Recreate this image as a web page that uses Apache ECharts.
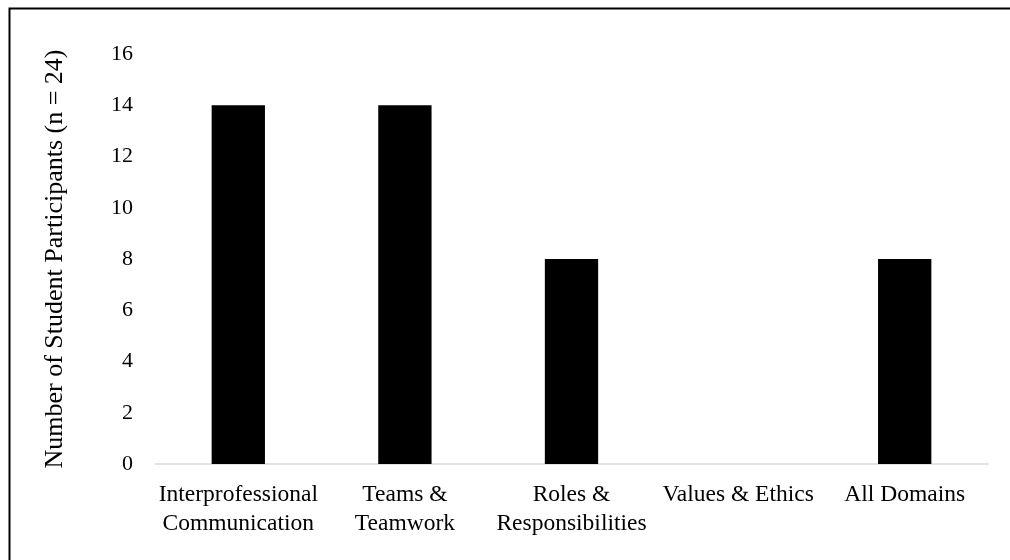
<!DOCTYPE html>
<html><head><meta charset="utf-8">
<script src="https://cdn.jsdelivr.net/npm/echarts@6/dist/echarts.min.js"></script>
<style>html,body{margin:0;padding:0;background:#fff}#c{width:1010px;height:560px}</style>
</head><body><div id="c"></div>
<script>
const categories = ['Interprofessional\nCommunication', 'Teams &\nTeamwork', 'Roles &\nResponsibilities', 'Values & Ethics', 'All Domains'];
const values = [14, 14, 8, 0, 8];
const yTicks = [0, 2, 4, 6, 8, 10, 12, 14, 16];
const yAxisTitle = 'Number of Student Participants (n = 24)';

const font = '"Liberation Serif", "Times New Roman", serif';
const chart = echarts.init(document.getElementById('c'));
chart.setOption({
  animation: false,
  backgroundColor: '#fff',
  graphic: [{
    type: 'rect', shape: { x: 9.5, y: 8.5, width: 1100, height: 700 },
    style: { fill: 'none', stroke: '#000', lineWidth: 2 }
  }],
  grid: { left: 155, right: 22, top: 54, bottom: 96, containLabel: false },
  xAxis: {
    type: 'category', data: categories,
    axisLine: { lineStyle: { color: '#d9d9d9', width: 1.5 } },
    axisTick: { show: false },
    axisLabel: { color: '#000', fontFamily: font, fontSize: 23.5, lineHeight: 28.5, margin: 17, interval: 0 }
  },
  yAxis: {
    type: 'value', min: yTicks[0], max: yTicks[yTicks.length - 1], interval: 2,
    name: yAxisTitle, nameLocation: 'middle', nameGap: 87,
    nameTextStyle: { color: '#000', fontFamily: font, fontSize: 26 },
    axisLine: { show: false }, axisTick: { show: false },
    splitLine: { show: false },
    axisLabel: { color: '#000', fontFamily: font, fontSize: 22, margin: 22 }
  },
  series: [{
    type: 'bar', data: values, barWidth: '32%',
    itemStyle: { color: '#000' }
  }]
});
</script></body></html>
